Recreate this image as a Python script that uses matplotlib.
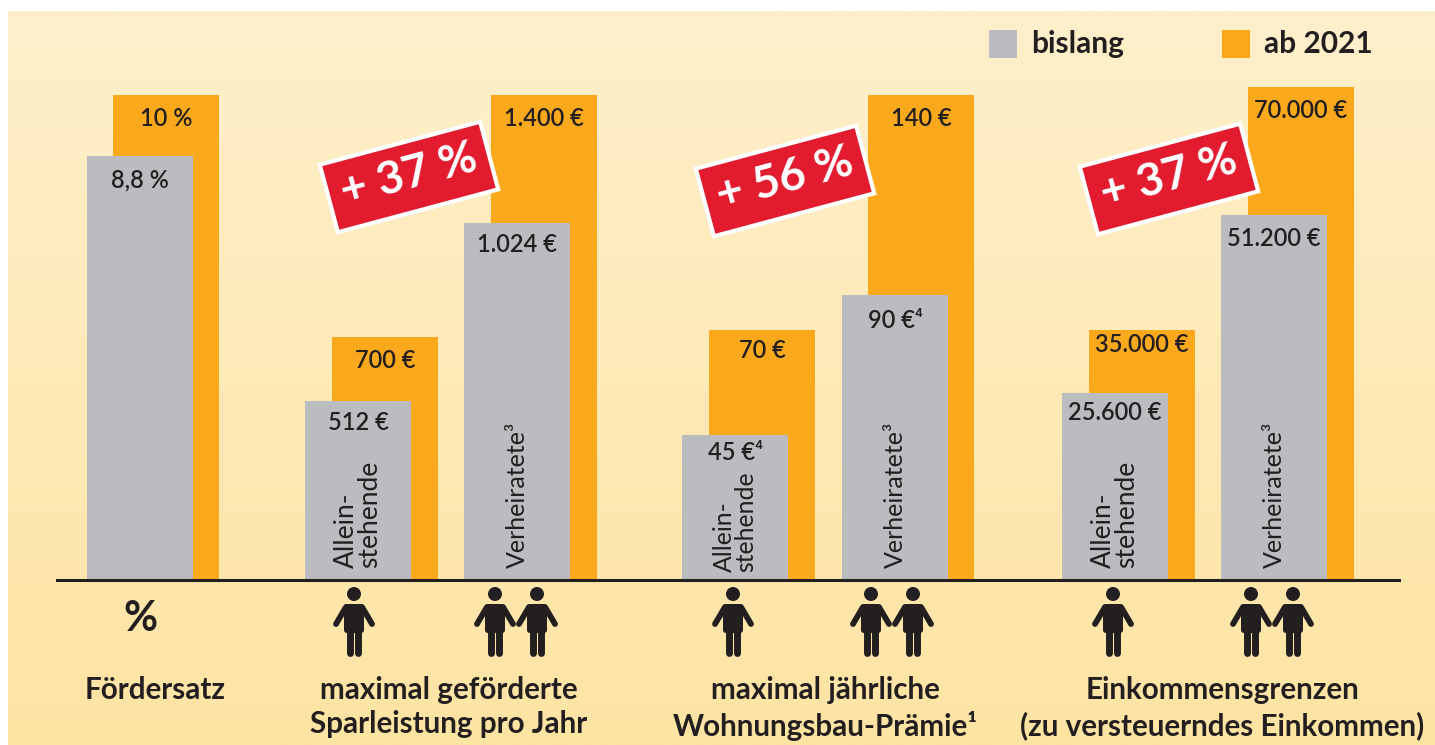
import matplotlib
matplotlib.use('Agg')
import matplotlib.pyplot as plt
from matplotlib.patches import Rectangle, Circle, FancyBboxPatch, Polygon
import numpy as np

plt.rcParams['font.family'] = ['Lato', 'Noto Sans', 'DejaVu Sans']

# data: the groups have no common scale, so heights are read off the picture (chart units)
grey_heights = [423, 178, 356, 144, 284, 186, 364]
orange_heights = [484, 242, 484, 249, 484, 249, 492]
grey_labels = ['8,8 %', '512 €', '1.024 €', '45 €⁴', '90 €⁴', '25.600 €', '51.200 €']
orange_labels = ['10 %', '700 €', '1.400 €', '70 €', '140 €', '35.000 €', '70.000 €']
bar_names = [None, 'Allein-\nstehende', 'Verheiratete³', 'Allein-\nstehende', 'Verheiratete³',
             'Allein-\nstehende', 'Verheiratete³']
group_names = ['Fördersatz', 'maximal geförderte\nSparleistung pro Jahr',
               'maximal jährliche\nWohnungsbau-Prämie¹',
               'Einkommensgrenzen\n(zu versteuerndes Einkommen)']
badge_texts = ['+ 37 %', '+ 56 %', '+ 37 %']
legend_names = ['bislang', 'ab 2021']

# layout in pixels
grey_x = [87, 305, 464, 682, 842, 1062, 1221]
orange_x = [113, 332, 491, 709, 868, 1089, 1248]
bar_w = 106
base_y = 579
grey_label_y = [180, 423, 245, 452, 320, 412, 238]
orange_label_y = [118, 361, 118, 351, 118, 345, 110]
name_sizes = [0, 19, 18, 17.8, 18, 19, 18]
name_bottom = [0, 11, 11, 7, 11, 11, 11]
people = [0, 1, 2, 1, 2, 1, 2]
person_x = [None, 354, 495, 733, 871, 1113, 1251]
group_x = [155, 449, 825, 1222]
badge_pos = [(409, 177), (785, 181), (1169, 179)]

GREY = '#BBBCBF'
ORANGE = '#FBA91C'
RED = '#E31B2F'
INK = '#231F20'

fig = plt.figure(figsize=(14.35, 7.45), dpi=100)
ax = fig.add_axes([0, 0, 1, 1])
ax.axis('off')


def py(y):
    # pixel row of the picture -> axes y
    return base_y - y


# background gradient
grad = np.linspace(0, 1, 256).reshape(-1, 1, 1)
top = np.array([254, 240, 204]) / 255
bottom = np.array([255, 228, 163]) / 255
ax.imshow(top + (bottom - top) * grad, extent=[8, 1435, py(745), py(11)],
          aspect='auto', zorder=0)
ax.set_xlim(0, 1435)
ax.set_ylim(base_y - 745, base_y)


def person(cx):
    # little figure, head at y=594 and feet at y=656
    ax.add_patch(Circle((cx, py(594)), 7, fc=INK, ec='none', zorder=5))
    ax.add_patch(FancyBboxPatch((cx - 7, py(630)), 14, 23, boxstyle='round,pad=3',
                                fc=INK, ec='none', zorder=5))
    for side in (-1, 1):
        ax.plot([cx + side * 8, cx + side * 18], [py(607), py(624)], color=INK, lw=4.2,
                solid_capstyle='round', zorder=5)
        ax.plot([cx + side * 3.6, cx + side * 3.6], [py(630), py(652.5)], color=INK, lw=5,
                solid_capstyle='round', zorder=5)


for i in range(len(grey_heights)):
    ax.bar(orange_x[i], orange_heights[i], bar_w, align='edge', color=ORANGE, zorder=2)
    ax.bar(grey_x[i], grey_heights[i], bar_w, align='edge', color=GREY, zorder=3)
    ax.text(orange_x[i] + 53, py(orange_label_y[i]), orange_labels[i], ha='center',
            va='center', fontsize=17, fontweight='semibold', color=INK, zorder=4)
    ax.text(grey_x[i] + 53, py(grey_label_y[i]), grey_labels[i], ha='center',
            va='center', fontsize=17, fontweight='semibold', color=INK, zorder=4)
    if bar_names[i]:
        ax.text(grey_x[i] + 53, name_bottom[i], bar_names[i], rotation=90, ha='center',
                va='bottom', fontsize=name_sizes[i], color=INK, linespacing=0.95, zorder=4,
                multialignment='left')
    if people[i] == 1:
        person(person_x[i])
    elif people[i] == 2:
        person(person_x[i])
        person(person_x[i] + 42)

ax.plot([57, 1399], [-1, -1], color=INK, lw=2.2, zorder=4)
ax.text(140, py(619), '%', ha='center', va='center', fontsize=30, fontweight='bold', color=INK)

for x, name in zip(group_x, group_names):
    ax.text(x, py(676), name, ha='center', va='top', fontsize=21.3, fontweight='bold',
            color=INK, linespacing=1.28)

# red badges
w, h, angle = 166, 70, np.radians(15)
ux = np.array([np.cos(angle), np.sin(angle)])
uy = np.array([-np.sin(angle), np.cos(angle)])
for (bx, by), label in zip(badge_pos, badge_texts):
    c = np.array([bx, py(by)])
    corners = [c - ux * w / 2 - uy * h / 2, c + ux * w / 2 - uy * h / 2,
               c + ux * w / 2 + uy * h / 2, c - ux * w / 2 + uy * h / 2]
    ax.add_patch(Polygon(corners, fc=RED, ec='white', lw=3, zorder=6))
    ax.text(bx, py(by) + 2, label, rotation=15, rotation_mode='anchor', ha='center', va='center',
            fontsize=33, fontweight='bold', color='white', zorder=7)

# legend
for x, color, name in zip([989, 1222], [GREY, ORANGE], legend_names):
    ax.add_patch(Rectangle((x, py(58)), 28, 28, fc=color, ec='none', zorder=3))
    ax.text(x + 42, py(44), name, ha='left', va='center', fontsize=21.5, fontweight='bold',
            color=INK)

fig.savefig('out.png', dpi=100)
